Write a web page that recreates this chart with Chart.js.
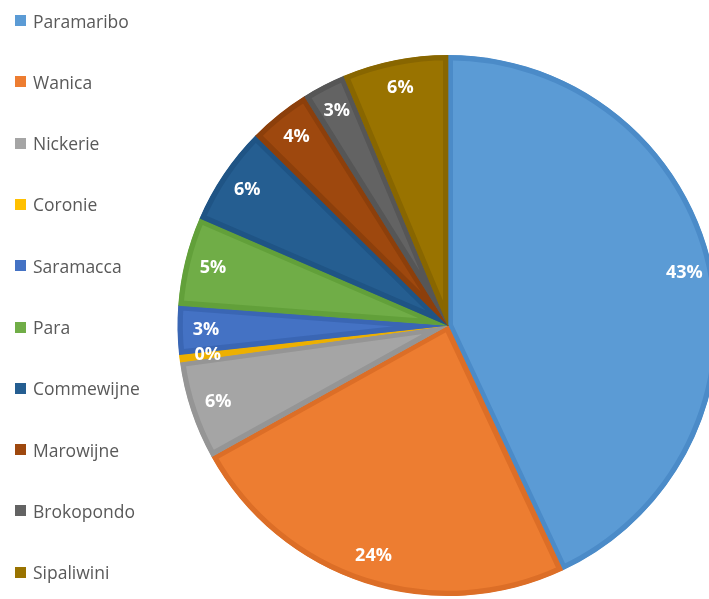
<!DOCTYPE html>
<html>
<head>
<meta charset="utf-8">
<script src="https://cdn.jsdelivr.net/npm/chart.js@4/dist/chart.umd.min.js"></script>
<style>
  html, body { margin: 0; padding: 0; background: #fff; overflow: hidden; }
  #wrap { position: relative; width: 709px; height: 599px; overflow: hidden; }
  #myChart { position: absolute; left: 0; top: 0; }
  #legend { position: absolute; left: 0; top: 0; }
  .item { position: absolute; left: 15px; height: 22px; display: flex; align-items: center;
    font-family: 'Open Sans', sans-serif; font-size: 17.5px; color: #595959; white-space: nowrap; }
  .box { width: 11px; height: 11px; margin-right: 7px; }
</style>
</head>
<body>
<div id="wrap">
  <canvas id="myChart"></canvas>
  <div id="legend"></div>
</div>
<script>
const labels = ['Paramaribo', 'Wanica', 'Nickerie', 'Coronie', 'Saramacca', 'Para', 'Commewijne', 'Marowijne', 'Brokopondo', 'Sipaliwini'];
const shares = [43.0, 23.9, 5.9, 0.45, 2.9, 5.3, 5.9, 3.7, 2.6, 6.3];
const fillColors = ['#5B9BD5', '#ED7D31', '#A5A5A5', '#FFC000', '#4472C4', '#70AD47', '#255E91', '#9E480E', '#636363', '#997300'];
const edgeColors = ['#4B8BC8', '#DC6E27', '#959595', '#EDB000', '#3A66B4', '#62A03A', '#1F5485', '#8C3F0B', '#565656', '#886600'];

// white percent labels inside the slices
const pctLabels = {
  id: 'pctLabels',
  afterDatasetsDraw(chart) {
    const { ctx } = chart;
    const meta = chart.getDatasetMeta(0);
    const total = shares.reduce((a, b) => a + b, 0);
    ctx.save();
    ctx.fillStyle = '#fff';
    ctx.font = 'bold 18px "Open Sans", sans-serif';
    ctx.textAlign = 'center';
    ctx.textBaseline = 'middle';
    meta.data.forEach((arc, i) => {
      const p = arc.getProps(['x', 'y', 'startAngle', 'endAngle', 'outerRadius'], true);
      const mid = (p.startAngle + p.endAngle) / 2;
      const r = p.outerRadius * 0.895;
      const txt = Math.round(shares[i] / total * 100) + '%';
      ctx.fillText(txt, p.x + Math.cos(mid) * r, p.y + Math.sin(mid) * r);
    });
    ctx.restore();
  },
};

const $legend = document.querySelector('#legend');
labels.forEach((name, i) => {
  const el = document.createElement('div');
  el.className = 'item';
  el.style.top = (9.5 + i * 61.3) + 'px';
  el.innerHTML = '<span class="box" style="background:' + fillColors[i] + '"></span>' + name;
  $legend.appendChild(el);
});

const $chart = document.querySelector('#myChart');
$chart.width = 740;
$chart.height = 599;

const config = {
  type: 'pie',
  data: {
    labels,
    datasets: [{
      data: shares,
      backgroundColor: fillColors,
      borderColor: edgeColors,
      borderWidth: 5,
      borderAlign: 'inner',
    }],
  },
  options: {
    responsive: false,
    animation: false,
    layout: { padding: { left: 176, right: 20, top: 55, bottom: 3 } },
    plugins: {
      legend: { display: false },
      tooltip: { enabled: false },
    },
  },
  plugins: [pctLabels],
};

const myChart = new Chart($chart, config);
</script>
</body>
</html>
